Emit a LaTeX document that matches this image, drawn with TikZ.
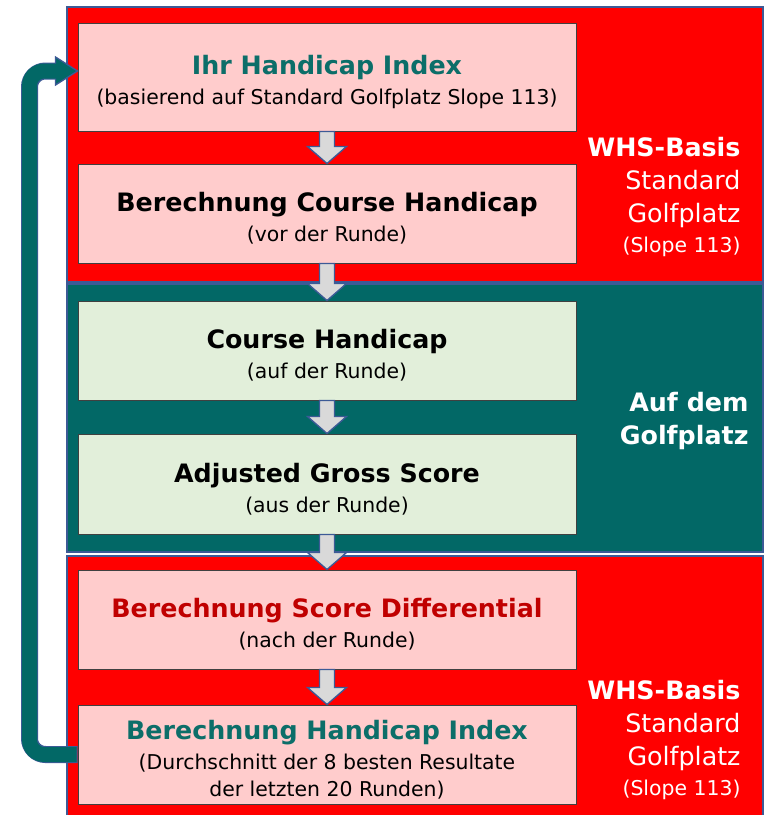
\documentclass[tikz,border=0pt]{standalone}
\usepackage{fontspec}
\setmainfont{DejaVu Sans}
\usepackage{tikz}
\usetikzlibrary{calc}
\definecolor{myred}{RGB}{255, 0, 0}
\definecolor{mypink}{RGB}{255, 204, 204}
\definecolor{myteal}{RGB}{2, 104, 102}
\definecolor{mygreen}{RGB}{226, 239, 218}
\definecolor{myblue}{RGB}{60, 90, 150}
\definecolor{mygrey}{RGB}{217, 217, 217}
\definecolor{mytitle}{RGB}{12, 110, 105}
\definecolor{mydarkred}{RGB}{192, 0, 0}
\tikzset{every picture/.style={line width=0.75pt}}
\tikzset{
  panel/.style={draw=myblue, line width=1.5pt},
  stepbox/.style={draw=black!75, line width=0.75pt, minimum width=373.5pt, minimum height=74.25pt, align=center, inner sep=0pt, font=\fontsize{15.3}{20}\selectfont},
  sidelabel/.style={anchor=east, align=right, text=white, inner sep=0pt, font=\fontsize{19}{24.5}\selectfont},
  blockarr/.style={draw=myblue, fill=mygrey, line width=1pt, line join=miter}
}
\newcommand{\boxtext}[3]{{\fontsize{19}{24}\selectfont\bfseries\color{#1}\rule{0pt}{22pt}#2}\\[2.5pt]#3}
\newcommand{\blockarrow}[2]{%
  \draw[blockarr] ($(#1.south)+(-7.5,0)$) -- ($(#2.north)+(-7.5,-17)$) -- ($(#2.north)+(-19.5,-17)$) -- (#2.north) -- ($(#2.north)+(19.5,-17)$) -- ($(#2.north)+(7.5,-17)$) -- ($(#1.south)+(7.5,0)$) -- cycle ;}

\begin{document}
\begin{tikzpicture}[x=0.75pt,y=0.75pt,yscale=-1,xscale=1]
\useasboundingbox (0,0) rectangle (769,815);
\clip (0,0) rectangle (769,815);

%Shape: Rectangle [top panel]
\draw [panel, fill=myred] (67,7) rectangle (763,282) ;
%Shape: Rectangle [middle panel]
\draw [panel, fill=myteal] (67,284) rectangle (763,552) ;
%Shape: Rectangle [bottom panel]
\draw [panel, fill=myred] (67,556) rectangle (763,830) ;

%Boxes
\node [stepbox, fill=mypink, minimum height=81pt] (ihr) at (327,77) {\boxtext{mytitle}{Ihr Handicap Index}{(basierend auf Standard Golfplatz Slope 113)}};
\node [stepbox, fill=mypink] (calcch) at (327,213.5) {\boxtext{black}{Berechnung Course Handicap}{(vor der Runde)}};
\node [stepbox, fill=mygreen] (ch) at (327,350.5) {\boxtext{black}{Course Handicap}{(auf der Runde)}};
\node [stepbox, fill=mygreen, minimum height=75pt] (ags) at (327,484) {\boxtext{black}{Adjusted Gross Score}{(aus der Runde)}};
\node [stepbox, fill=mypink] (sd) at (327,619.5) {\boxtext{mydarkred}{Berechnung Score Differential}{(nach der Runde)}};
\node [stepbox, fill=mypink] (hcp) at (327,754.5) {\boxtext{mytitle}{Berechnung Handicap Index}{(Durchschnitt der 8 besten Resultate\\der letzten 20 Runden)}};

%Block arrows
\blockarrow{ihr}{calcch}
\blockarrow{calcch}{ch}
\blockarrow{ch}{ags}
\blockarrow{ags}{sd}
\blockarrow{sd}{hcp}

%Loop arrow
\coordinate (tip) at ($(ihr.west)+(0,-6)$);
\coordinate (base) at ($(tip)+(-22,0)$);
\draw [myblue, line width=12.75pt, rounded corners=12pt] (hcp.west) -- ++(-48,0) |- ($(base)+(1,0)$) ;
\draw [myblue, fill=myteal, line width=1pt, line join=miter] (tip) -- ($(base)+(0,-14)$) -- ($(base)+(0,14)$) -- cycle ;
\draw [myteal, line width=11.25pt, rounded corners=11pt] ($(hcp.west)+(-1,0)$) -- ++(-47,0) |- ($(base)+(2,0)$) ;

% Text Node
\node [sidelabel] (whs1) at (741,197) {\textbf{WHS-Basis}\\Standard\\Golfplatz\\[-2pt]{\fontsize{15.3}{20}\selectfont (Slope 113)}};
% Text Node
\node [sidelabel, font=\fontsize{19}{24.5}\selectfont\bfseries] (golf) at (749,421) {Auf dem\\Golfplatz};
% Text Node
\node [sidelabel] (whs2) at (741,740) {\textbf{WHS-Basis}\\Standard\\Golfplatz\\[-2pt]{\fontsize{15.3}{20}\selectfont (Slope 113)}};

\end{tikzpicture}
\end{document}
